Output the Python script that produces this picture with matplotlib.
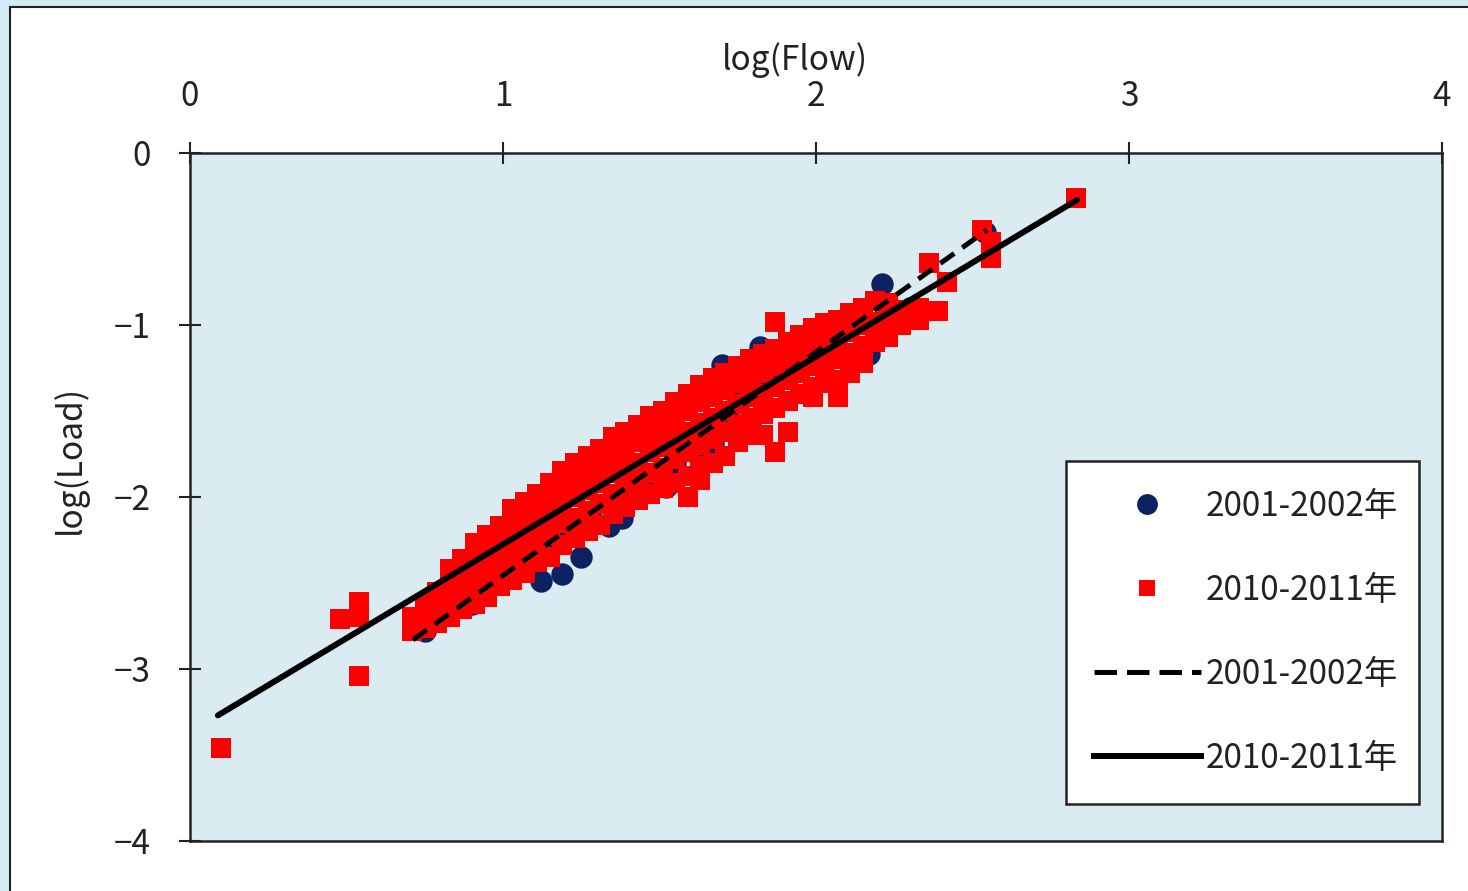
import matplotlib
matplotlib.use("Agg")
import matplotlib.pyplot as plt
import numpy as np
from matplotlib.lines import Line2D
from matplotlib.patches import Rectangle

plt.rcParams['font.family'] = ['Noto Sans CJK JP', 'DejaVu Sans']

# 2001-2002 (navy circles): log(Flow), log(Load)
blue_x = [0.75, 0.80, 0.85, 0.90, 0.95, 1.00, 1.05, 1.09, 1.12, 1.15, 1.19, 1.20,
          1.25, 1.28, 1.34, 1.38, 1.40, 1.45, 1.52, 1.55, 1.60, 1.63, 1.64, 1.66,
          1.67, 1.70, 1.72, 1.77, 1.79, 1.82, 1.85, 1.90, 1.94, 1.97, 2.01, 2.05,
          2.10, 2.17, 2.21, 2.30, 2.54]
blue_y = [-2.78, -2.70, -2.62, -2.62, -2.52, -2.45, -2.40, -2.42, -2.49, -2.30, -2.45, -2.20,
          -2.35, -2.12, -2.17, -2.12, -2.00, -1.92, -1.94, -1.80, -1.70, -1.78, -1.80, -1.60,
          -1.69, -1.23, -1.50, -1.42, -1.57, -1.13, -1.30, -1.25, -1.08, -1.15, -1.03, -1.10,
          -1.00, -1.17, -0.76, -0.90, -0.46]

# 2010-2011 (red squares): log(Flow), log(Load)
red_x = [0.10, 0.48, 0.54, 0.54, 0.54,
         0.71, 0.71,
         0.75, 0.75, 0.75,
         0.79, 0.79, 0.79,
         0.83, 0.83, 0.83, 0.83,
         0.87, 0.87, 0.87, 0.87,
         0.91, 0.91, 0.91, 0.91, 0.91,
         0.95, 0.95, 0.95, 0.95, 0.95,
         0.99, 0.99, 0.99, 0.99, 0.99,
         1.03, 1.03, 1.03, 1.03, 1.03,
         1.07, 1.07, 1.07, 1.07, 1.07,
         1.11, 1.11, 1.11, 1.11, 1.11,
         1.15, 1.15, 1.15, 1.15, 1.15,
         1.19, 1.19, 1.19, 1.19, 1.19,
         1.23, 1.23, 1.23, 1.23, 1.23,
         1.27, 1.27, 1.27, 1.27, 1.27,
         1.31, 1.31, 1.31, 1.31, 1.31,
         1.35, 1.35, 1.35, 1.35, 1.35,
         1.39, 1.39, 1.39, 1.39, 1.39,
         1.43, 1.43, 1.43, 1.43, 1.43,
         1.47, 1.47, 1.47, 1.47, 1.47,
         1.51, 1.51, 1.51, 1.51, 1.51,
         1.55, 1.55, 1.55, 1.55, 1.55,
         1.59, 1.59, 1.59, 1.59, 1.59, 1.59,
         1.63, 1.63, 1.63, 1.63, 1.63, 1.63,
         1.67, 1.67, 1.67, 1.67, 1.67,
         1.71, 1.71, 1.71, 1.71, 1.71,
         1.75, 1.75, 1.75, 1.75, 1.75,
         1.79, 1.79, 1.79, 1.79, 1.79,
         1.83, 1.83, 1.83, 1.83, 1.83,
         1.87, 1.87, 1.87, 1.87, 1.87, 1.87,
         1.91, 1.91, 1.91, 1.91, 1.91,
         1.95, 1.95, 1.95, 1.95,
         1.99, 1.99, 1.99, 1.99, 1.99,
         2.03, 2.03, 2.03, 2.03,
         2.07, 2.07, 2.07, 2.07, 2.07,
         2.11, 2.11, 2.11, 2.11,
         2.15, 2.15, 2.15, 2.15,
         2.19, 2.19, 2.19,
         2.23, 2.23, 2.23,
         2.27, 2.27,
         2.33, 2.33,
         2.39, 2.36, 2.42, 2.53, 2.56, 2.56, 2.83]
red_y = [-3.46, -2.71, -2.61, -2.70, -3.04,
         -2.70, -2.78,
         -2.62, -2.70, -2.76,
         -2.55, -2.64, -2.73,
         -2.42, -2.52, -2.62, -2.70,
         -2.36, -2.46, -2.56, -2.65,
         -2.27, -2.37, -2.47, -2.55, -2.62,
         -2.22, -2.32, -2.42, -2.50, -2.58,
         -2.17, -2.27, -2.37, -2.45, -2.52,
         -2.07, -2.17, -2.27, -2.38, -2.48,
         -2.03, -2.13, -2.23, -2.33, -2.44,
         -1.98, -2.08, -2.18, -2.28, -2.38,
         -1.92, -2.02, -2.12, -2.22, -2.35,
         -1.85, -1.95, -2.05, -2.15, -2.28,
         -1.80, -1.90, -2.00, -2.12, -2.24,
         -1.76, -1.86, -1.96, -2.08, -2.20,
         -1.72, -1.82, -1.92, -2.04, -2.16,
         -1.65, -1.75, -1.86, -1.98, -2.10,
         -1.62, -1.72, -1.83, -1.95, -2.06,
         -1.58, -1.68, -1.80, -1.92, -2.02,
         -1.53, -1.63, -1.74, -1.86, -1.98,
         -1.50, -1.60, -1.71, -1.83, -1.95,
         -1.45, -1.55, -1.66, -1.78, -1.92,
         -1.40, -1.50, -1.62, -1.74, -1.88, -2.00,
         -1.35, -1.45, -1.57, -1.70, -1.82, -1.90,
         -1.31, -1.42, -1.54, -1.66, -1.80,
         -1.28, -1.38, -1.50, -1.62, -1.76,
         -1.24, -1.34, -1.46, -1.58, -1.68,
         -1.20, -1.30, -1.42, -1.54, -1.64,
         -1.17, -1.28, -1.40, -1.52, -1.64,
         -0.98, -1.14, -1.24, -1.36, -1.48, -1.74,
         -1.10, -1.20, -1.32, -1.44, -1.62,
         -1.06, -1.16, -1.28, -1.40,
         -1.02, -1.12, -1.24, -1.36, -1.42,
         -0.99, -1.10, -1.22, -1.34,
         -0.97, -1.08, -1.20, -1.32, -1.42,
         -0.93, -1.04, -1.16, -1.28,
         -0.90, -1.00, -1.12, -1.22,
         -0.86, -0.98, -1.10,
         -0.87, -0.98, -1.07,
         -0.91, -1.00,
         -0.90, -0.97,
         -0.92, -0.64, -0.75, -0.45, -0.52, -0.61, -0.26]

# regression lines: [slope, intercept] and x range
fit_2001 = [1.2988, -3.755]
fit_2001_x = [0.712, 2.546]
fit_2010 = [1.0918, -3.367]
fit_2010_x = [0.089, 2.834]

labels = ['2001-2002年', '2010-2011年', '2001-2002年', '2010-2011年']
navy = '#0d2260'
red = '#ff0000'
plot_bg = '#daebf2'

fig = plt.figure(figsize=(14.68, 8.91), dpi=100)
fig.patch.set_facecolor('#d5ebf4')
# white page frame behind the chart
frame = Rectangle((10 / 1468, -0.1), 1.2, 1 - 7 / 891 + 0.1,
                  transform=fig.transFigure, facecolor='white',
                  edgecolor='#222222', linewidth=1.5, zorder=-10)
fig.patches.append(frame)

ax = fig.add_axes([190 / 1468, 50 / 891, 1252 / 1468, 688 / 891])
ax.set_zorder(5)
ax.set_facecolor(plot_bg)

ax.scatter(blue_x, blue_y, s=260, marker='o', color=navy, linewidths=0, zorder=2)
ax.scatter(red_x, red_y, s=215, marker='s', color=red, linewidths=0, zorder=3)

xd = np.array(fit_2001_x)
ax.plot(xd, np.polyval(fit_2001, xd), color='black', lw=3.6,
        ls=(0, (3.4, 2.0)), zorder=4)
xs = np.array(fit_2010_x)
ax.plot(xs, np.polyval(fit_2010, xs), color='black', lw=4.3,
        solid_capstyle='round', zorder=5)

ax.set_xlim(0, 4)
ax.set_ylim(-4, 0)
ax.set_xticks([0, 1, 2, 3, 4])
ax.set_yticks([0, -1, -2, -3, -4])
ax.xaxis.tick_top()
ax.xaxis.set_label_position('top')
ax.tick_params(axis='both', direction='inout', length=16, width=1.5,
               labelsize=24, colors='#222222')
ax.tick_params(axis='x', pad=20)
ax.tick_params(axis='y', pad=20)
for sp in ax.spines.values():
    sp.set_linewidth(1.8)
    sp.set_color('#222222')

ax.set_xlabel('log(Flow)', fontsize=24, color='#222222')
ax.xaxis.label.set_va('center')
ax.xaxis.set_label_coords(0.483, 1.135)
ax.set_ylabel('log(Load)', fontsize=24, color='#222222')
ax.yaxis.label.set_va('center')
ax.yaxis.set_label_coords(-0.096, 0.554)

handles = [
    Line2D([], [], ls='none', marker='o', markersize=15, color=navy, markeredgewidth=0),
    Line2D([], [], ls='none', marker='s', markersize=12, color=red, markeredgewidth=0),
    Line2D([], [], color='black', lw=3.6, ls=(0, (4.5, 2.0))),
    Line2D([], [], color='black', lw=4.3),
]
leg = ax.legend(handles, labels, loc='upper left',
                bbox_to_anchor=(0.700, 0.070, 0.282, 0.482), mode='expand',
                borderaxespad=0, fontsize=24, handlelength=3.2, handletextpad=0.15,
                labelspacing=1.47, borderpad=0.83, fancybox=False, framealpha=1,
                edgecolor='#222222')
leg.get_frame().set_linewidth(1.8)
for t in leg.get_texts():
    t.set_color('#222222')

fig.savefig('out.png', dpi=100, facecolor=fig.get_facecolor())
